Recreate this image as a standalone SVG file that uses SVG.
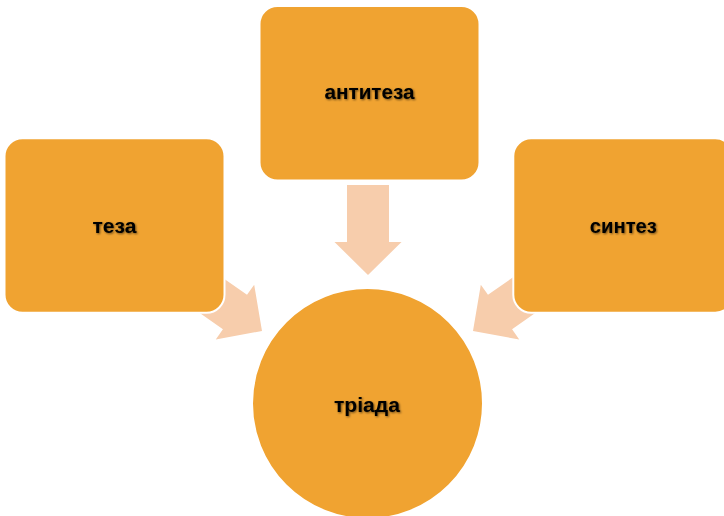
<svg xmlns="http://www.w3.org/2000/svg" width="724" height="516" viewBox="0 0 724 516">
  <defs>
    <style>
      .node { fill: #F0A331; stroke: #FFFFFF; stroke-width: 2; }
      .arrow { fill: #F7CDAC; stroke: none; }
      .label { font-family: "Liberation Sans", Arial, sans-serif; font-weight: bold; font-size: 21px; fill: #000000; text-anchor: middle; filter: url(#shadow); }
    </style>
    <filter id="shadow" x="-20%" y="-50%" width="140%" height="200%">
      <feDropShadow dx="1" dy="1" stdDeviation="0.9" flood-color="#000000" flood-opacity="0.55"/>
    </filter>
    <path id="arrowShape" d="M-90,-21 L-33,-21 L-33,-33.5 L0,0 L-33,33.5 L-33,21 L-90,21 Z"/>
  </defs>
  <rect width="724" height="516" fill="#FFFFFF"/>
  <g id="connectors">
    <use href="#arrowShape" class="arrow" transform="translate(368,275) rotate(90)"/>
    <use href="#arrowShape" class="arrow" transform="translate(262,331) rotate(35)"/>
    <use href="#arrowShape" class="arrow" transform="translate(473,331) rotate(145)"/>
  </g>
  <g id="teza">
    <rect class="node" x="4.5" y="138.3" width="220" height="174.4" rx="18" ry="18"/>
    <text class="label" x="114.5" y="233" textLength="44" lengthAdjust="spacingAndGlyphs">теза</text>
  </g>
  <g id="antyteza">
    <rect class="node" x="259.5" y="6" width="220" height="174.4" rx="18" ry="18"/>
    <text class="label" x="369.5" y="99" textLength="90" lengthAdjust="spacingAndGlyphs">антитеза</text>
  </g>
  <g id="syntez">
    <rect class="node" x="513.3" y="138.3" width="220" height="174.4" rx="18" ry="18"/>
    <text class="label" x="623.3" y="233" textLength="67" lengthAdjust="spacingAndGlyphs">синтез</text>
  </g>
  <g id="triada">
    <circle class="node" cx="367.5" cy="403.5" r="115.5"/>
    <text class="label" x="367" y="412" textLength="66" lengthAdjust="spacingAndGlyphs">тріада</text>
  </g>
</svg>
